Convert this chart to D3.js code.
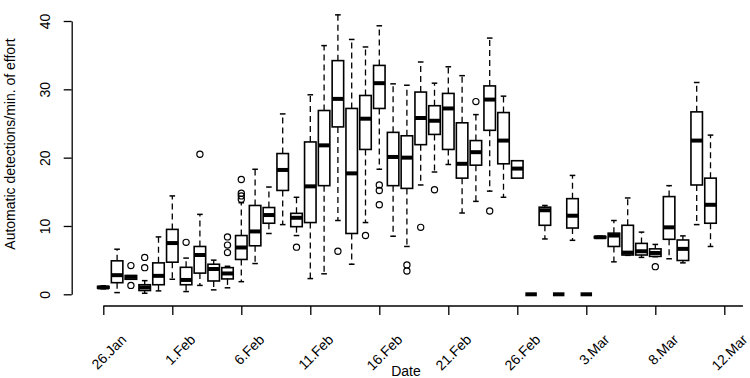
<!DOCTYPE html>
<html><head><meta charset="utf-8">
<script src="https://cdn.jsdelivr.net/npm/d3@7"></script>
<style>
html,body{margin:0;padding:0;background:#fff;}
text{font-family:"Liberation Sans",Arial,Helvetica,sans-serif;}
</style>
</head><body>
<svg id="chart" width="750" height="378"></svg>
<script>
// ---- data (one entry per day / box, index 1..45) ----
const tickPositions = [1, 6, 11, 16, 21, 26, 31, 36, 41, 46];
const tickLabels = ["26.Jan","1.Feb","6.Feb","11.Feb","16.Feb","21.Feb","26.Feb","3.Mar","8.Mar","12.Mar"];
const yTicks = [0, 10, 20, 30, 40];

const whiskerLow = [0.8,0.25,2.2,0.15,0.5,2.2,0.4,1.3,0.65,0.95,
  1.85,4.5,8.9,10.2,8.6,2.3,3.0,10.8,4.4,10.5,
  18.3,8.5,7.0,16.0,17.9,19.0,11.9,13.6,15.1,14.2,
  17.0,0,8.1,0,7.9,0,8.2,4.75,5.7,5.4,
  5.5,5.2,4.6,10.2,7.0];
const q1 = [0.9,1.7,2.2,0.55,1.4,4.7,1.4,3.1,1.95,2.25,
  5.1,7.1,10.4,15.2,9.9,10.5,15.9,24.5,8.9,21.2,
  27.2,15.9,15.5,21.9,23.4,21.2,17.0,18.9,24.0,19.1,
  17.0,0,10.1,0,9.7,0,8.25,7.0,5.75,5.75,
  5.55,8.05,4.95,16.0,10.4];
const medians = [1.0,2.8,2.55,1.0,2.7,7.5,2.1,5.75,3.7,3.05,
  6.85,9.2,11.6,18.2,11.2,15.8,21.8,28.6,17.7,25.7,
  30.9,20.1,20.0,25.8,25.4,27.2,19.1,20.8,28.5,22.5,
  18.4,0,12.3,0,11.5,0,8.35,8.6,6.1,6.3,
  6.05,9.8,6.65,22.5,13.1];
const q3 = [1.15,4.9,2.75,1.4,4.6,9.5,3.95,7.0,4.4,3.9,
  8.6,13.0,12.7,20.6,11.85,22.3,26.9,34.2,27.2,29.1,
  33.5,23.7,23.2,29.6,27.6,29.4,25.1,22.5,30.5,26.6,
  19.55,0,12.75,0,14.0,0,8.45,8.95,10.1,7.45,
  6.65,14.3,7.95,26.7,17.0];
const whiskerHigh = [1.25,6.6,2.75,2.0,8.4,14.4,5.3,11.7,5.0,4.1,
  13.4,18.3,15.7,26.4,14.2,29.2,36.4,40.9,37.3,36.2,
  39.3,30.8,30.6,34.0,30.9,33.3,32.0,26.3,37.5,29.0,
  19.55,0,13.0,0,17.4,0,8.5,10.8,14.1,9.1,
  7.3,15.9,8.55,31.0,23.3];
const outliers = [[],[],[4.2,1.3],[5.4,3.9],[],[],[7.6],[20.5],[],[8.4,7.2,6.1],
  [16.8,14.8,14.4,13.9],[],[],[],[6.9],[],[],[6.3],[],[8.6],
  [16.0,15.2,13.1],[],[4.3,3.4],[9.8],[15.3],[],[],[28.2],[12.2],[],
  [],[],[],[],[],[],[],[],[],[],
  [4.05],[],[],[],[]];

// ---- drawing ----
const svg = d3.select("#chart");
svg.append("rect").attr("width",750).attr("height",378).attr("fill","#fff");

const x = d3.scaleLinear().domain([1, 46]).range([103.3, 724.3]);
const y = d3.scaleLinear().domain([0, 40]).range([294.3, 21]);
const axisY = 306;
const boxW = 11.5, stapleW = 5.6;

const boxes = medians.map((m, i) => ({
  pos: i + 1, lo: whiskerLow[i], q1: q1[i], med: m, q3: q3[i], hi: whiskerHigh[i], out: outliers[i]
}));

const g = svg.append("g");
const bx = g.selectAll("g.box").data(boxes).join("g").attr("class","box");

// whiskers (dashed)
bx.filter(d => d.hi > d.q3).append("line")
  .attr("x1", d => x(d.pos)).attr("x2", d => x(d.pos))
  .attr("y1", d => y(d.q3)).attr("y2", d => y(d.hi))
  .attr("stroke","#000").attr("stroke-width",1.3).attr("stroke-dasharray","6,4");
bx.filter(d => d.lo < d.q1).append("line")
  .attr("x1", d => x(d.pos)).attr("x2", d => x(d.pos))
  .attr("y1", d => y(d.q1)).attr("y2", d => y(d.lo))
  .attr("stroke","#000").attr("stroke-width",1.3).attr("stroke-dasharray","6,4");
// staples
bx.filter(d => d.hi > d.q3).append("line")
  .attr("x1", d => x(d.pos) - stapleW/2).attr("x2", d => x(d.pos) + stapleW/2)
  .attr("y1", d => y(d.hi)).attr("y2", d => y(d.hi))
  .attr("stroke","#000").attr("stroke-width",1.5);
bx.filter(d => d.lo < d.q1).append("line")
  .attr("x1", d => x(d.pos) - stapleW/2).attr("x2", d => x(d.pos) + stapleW/2)
  .attr("y1", d => y(d.lo)).attr("y2", d => y(d.lo))
  .attr("stroke","#000").attr("stroke-width",1.5);
// box
bx.append("rect")
  .attr("x", d => x(d.pos) - boxW/2).attr("width", boxW)
  .attr("y", d => y(d.q3)).attr("height", d => Math.max(0, y(d.q1) - y(d.q3)))
  .attr("fill","#fff").attr("stroke","#000").attr("stroke-width",1.6);
// median
bx.append("line")
  .attr("x1", d => x(d.pos) - boxW/2).attr("x2", d => x(d.pos) + boxW/2)
  .attr("y1", d => y(d.med)).attr("y2", d => y(d.med))
  .attr("stroke","#000").attr("stroke-width",4);
// outliers
bx.selectAll("circle").data(d => d.out.map(v => ({pos: d.pos, v}))).join("circle")
  .attr("cx", d => x(d.pos)).attr("cy", d => y(d.v)).attr("r", 3.1)
  .attr("fill","none").attr("stroke","#000").attr("stroke-width",1.2);

// x axis
const xAxis = svg.append("g").attr("transform", `translate(0,${axisY})`)
  .call(d3.axisBottom(x).tickValues(tickPositions).tickSize(9).tickSizeOuter(0).tickFormat(""));
xAxis.select(".domain").remove();
xAxis.selectAll(".tick line").attr("stroke","#000").attr("stroke-width",1.3);
xAxis.append("line").attr("x1", x(1)).attr("x2", x(47.35)).attr("y1",0).attr("y2",0)
  .attr("stroke","#000").attr("stroke-width",1.3);
svg.append("g").selectAll("text").data(tickPositions).join("text")
  .attr("transform", (d) => `translate(${x(d) + 20.5},${337}) rotate(-45)`)
  .attr("text-anchor","end").attr("dy","0.35em")
  .attr("font-size", 14).attr("fill","#000")
  .text((d, i) => tickLabels[i]);

// y axis
const yAxis = svg.append("g").attr("transform","translate(71.7,0)")
  .call(d3.axisLeft(y).tickValues(yTicks).tickSize(8).tickSizeOuter(0));
yAxis.select(".domain").attr("stroke","#000").attr("stroke-width",1.3);
yAxis.selectAll(".tick line").attr("stroke","#000").attr("stroke-width",1.3);
yAxis.selectAll(".tick text")
  .attr("x",0).attr("y",0).attr("dy",0)
  .attr("transform", `translate(${50 - 71.7},0) rotate(-90)`)
  .attr("text-anchor","middle").attr("font-size",14).attr("fill","#000")
  .attr("font-family",'"Liberation Sans",Arial,sans-serif');

// axis titles
svg.append("text").attr("x",406).attr("y",376).attr("text-anchor","middle")
  .attr("font-size",14).attr("fill","#000").text("Date");
svg.append("text").attr("transform","translate(15,144) rotate(-90)")
  .attr("text-anchor","middle").attr("font-size",14).attr("fill","#000")
  .text("Automatic detections/min. of effort");
</script>
</body></html>
